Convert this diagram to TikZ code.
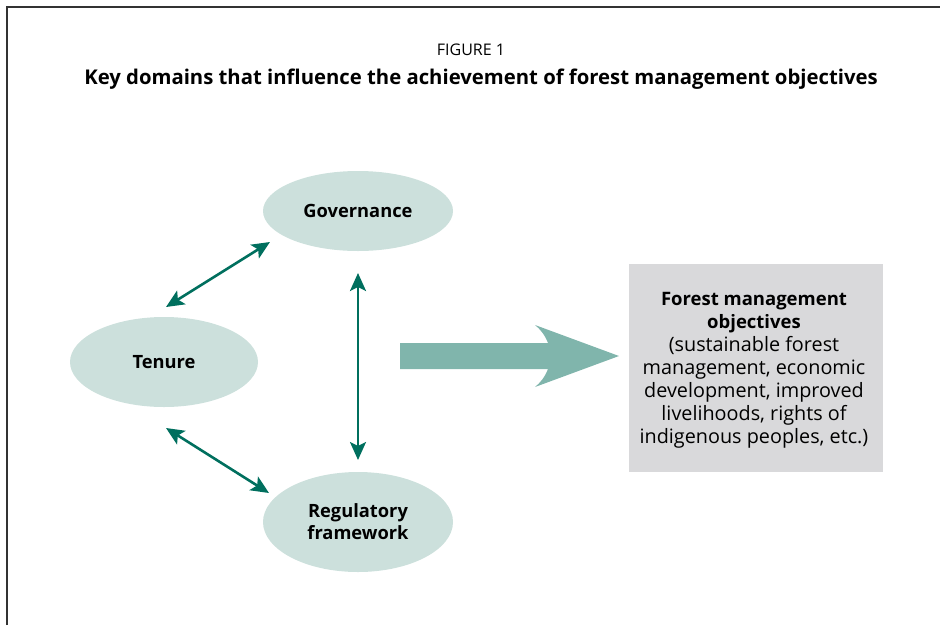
\documentclass[tikz,border=0pt]{standalone}
\usepackage{fontspec}
\setmainfont{Open Sans}
\usetikzlibrary{arrows.meta,shapes.geometric}
\definecolor{ellfill}{HTML}{CCE0DC}
\definecolor{arrdark}{HTML}{006F5E}
\definecolor{bigarr}{HTML}{80B5AC}
\definecolor{boxgray}{HTML}{D9D9DB}
\definecolor{framecol}{HTML}{333333}
\tikzset{
  domainnode/.style={ellipse, fill=ellfill, font=\bfseries\fontsize{18.3}{22}\selectfont, align=center, inner sep=0pt},
  linkarrow/.style={arrdark, line width=2.6pt, {Stealth[length=18pt,width=16pt,inset=4pt]}-{Stealth[length=18pt,width=16pt,inset=4pt]}},
}
\begin{document}
\begin{tikzpicture}[x=1pt,y=-1pt]
\useasboundingbox (0,0) rectangle (940,625);
\draw[framecol, line width=2pt] (7,625) -- (7,7) -- (940,7);
\node[font=\fontsize{16}{20}\selectfont] (fig) at (471,50) {FIGURE 1};
\node[font=\bfseries\fontsize{20.3}{24}\selectfont] (title) at (481,79) {Key domains that influence the achievement of forest management objectives};
% ellipses
\node[domainnode, minimum width=190pt, minimum height=80pt] (gov) at (358,211) {Governance};
\node[domainnode, minimum width=188pt, minimum height=90pt] (ten) at (164,362) {Tenure};
\node[domainnode, minimum width=190pt, minimum height=100pt] (reg) at (358,522) {Regulatory\\framework};
% arrow end points
\coordinate (a1s) at (166,307);
\coordinate (a1e) at (270,242);
\coordinate (a2s) at (166,428);
\coordinate (a2e) at (269,493);
\coordinate (a3s) at (358,273);
\coordinate (a3e) at (358,460);
\draw[linkarrow] (a1s) -- (a1e);
\draw[linkarrow] (a2s) -- (a2e);
\draw[linkarrow] (a3s) -- (a3e);
% objectives box
\node[fill=boxgray, minimum width=254pt, minimum height=208pt, inner sep=0pt] (obj) at (756,368) {};
\node[align=center, font=\fontsize{19.8}{23}\selectfont] (objtxt) at (754,370) {{\fontsize{18.5}{23}\selectfont\bfseries Forest management}\\{\fontsize{18.5}{23}\selectfont\bfseries objectives}\\(sustainable forest\\management, economic\\development, improved\\livelihoods, rights of\\indigenous peoples, etc.)};
% big arrow
\fill[bigarr] (400,343) -- (548,343) .. controls (545,335) and (540,329) .. (535,325) -- (619,356) -- (535,387) .. controls (540,383) and (545,377) .. (548,369) -- (400,369) -- cycle;
\end{tikzpicture}
\end{document}
